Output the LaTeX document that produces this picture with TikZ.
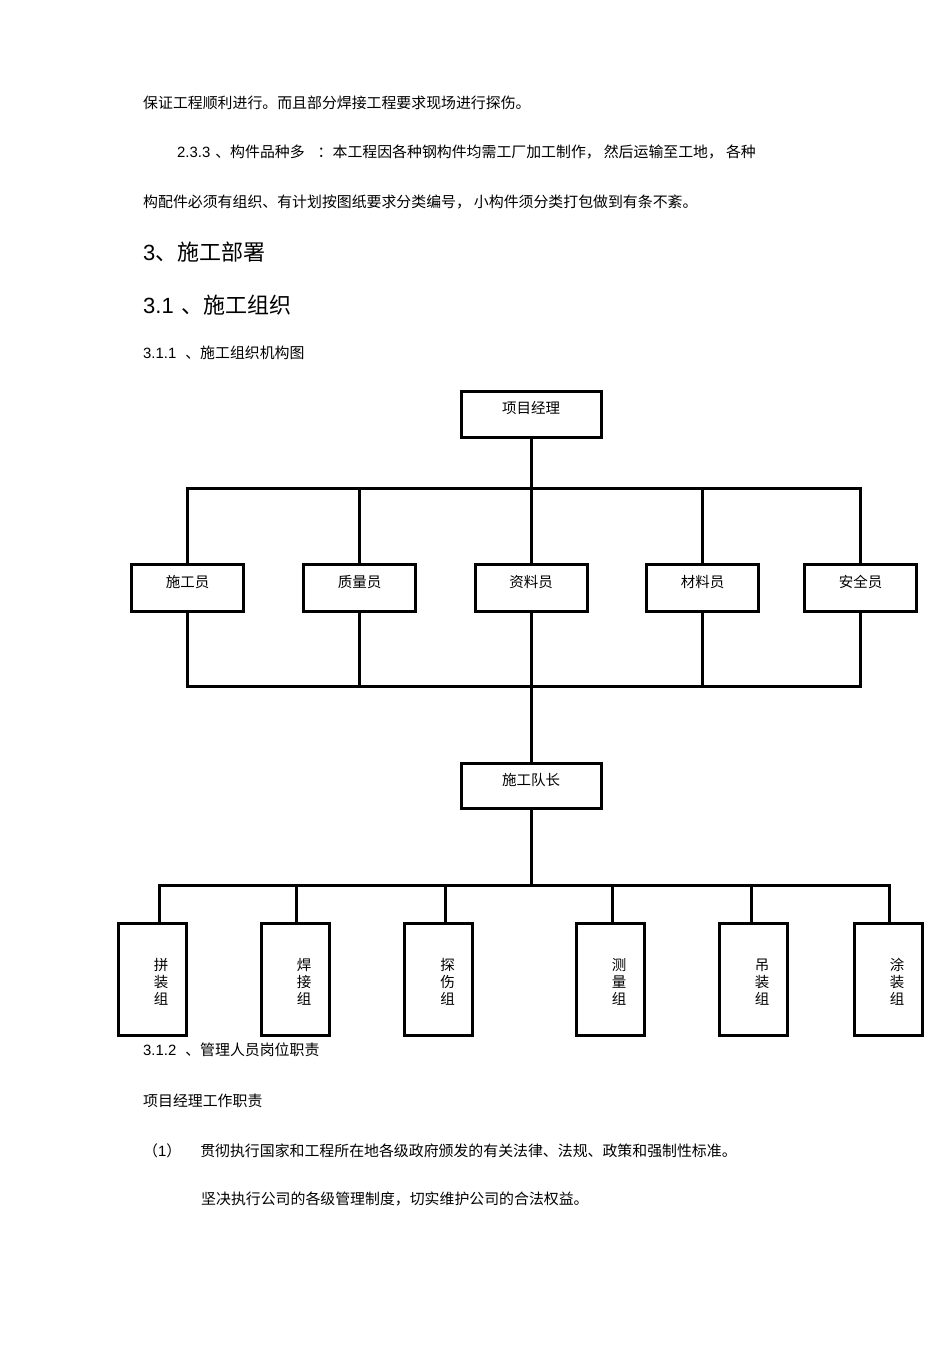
\documentclass[tikz,border=0pt]{standalone}
\usepackage{fontspec}
\setmainfont{Noto Sans CJK SC}
\newfontfamily\numfont{Liberation Sans}
\newcommand{\grplabel}[3]{\hspace*{18pt}\begin{tabular}{@{}c@{}}\rule{0pt}{20.8pt}#1\\#2\\#3\end{tabular}}
\begin{document}
\begin{tikzpicture}[x=1pt, y=-1pt,
    txt/.style={anchor=base west, inner sep=0pt, font=\fontsize{14.9}{17}\selectfont},
    head/.style={anchor=base west, inner sep=0pt, font=\fontsize{22}{26}\selectfont},
    post/.style={draw, line width=3pt, inner sep=0pt, minimum width=112pt, minimum height=47pt,
        text height=10pt, text depth=11pt, font=\fontsize{14.5}{17}\selectfont},
    grp/.style={draw, line width=3pt, inner sep=0pt, minimum width=68pt, minimum height=112pt,
        font=\fontsize{14.5}{16}\selectfont},
    link/.style={line width=3pt}]
    \useasboundingbox (0,0) rectangle (950,1345);

    % Text above the chart
    \node[txt] (p1) at (143,108.5) {保证工程顺利进行。而且部分焊接工程要求现场进行探伤。};
    \node[txt] (p2) at (177,157.5) {{\numfont 2.3.3}\hspace{5pt}、构件品种多\hspace{13pt}：本工程因各种钢构件均需工厂加工制作，\hspace{3pt}然后运输至工地，\hspace{3pt}各种};
    \node[txt] (p3) at (143,207.5) {构配件必须有组织、有计划按图纸要求分类编号，\hspace{3pt}小构件须分类打包做到有条不紊。};
    \node[head] (h1) at (143,260.5) {{\numfont 3}、施工部署};
    \node[head] (h2) at (143,313.5) {{\numfont 3.1}\hspace{8pt}、施工组织};
    \node[txt] (h3) at (143,358.5) {{\numfont 3.1.1}\hspace{9pt}、施工组织机构图};

    % Manager and staff
    \node[post, minimum width=140pt, minimum height=46pt] (jingli) at (531,414) {项目经理};
    \node[post] (shigong) at (187.5,588) {施工员};
    \node[post] (zhiliang) at (359.5,588) {质量员};
    \node[post] (ziliao) at (531,588) {资料员};
    \node[post] (cailiao) at (702.5,588) {材料员};
    \node[post] (anquan) at (860.5,588) {安全员};
    \node[post, minimum width=140pt, minimum height=45pt] (duizhang) at (531,786) {施工队长};

    % Work groups
    \node[grp] (pinzhuang) at (152,979.5) {\grplabel{拼}{装}{组}};
    \node[grp] (hanjie) at (295,979.5) {\grplabel{焊}{接}{组}};
    \node[grp] (tanshang) at (438.5,979.5) {\grplabel{探}{伤}{组}};
    \node[grp] (celiang) at (610,979.5) {\grplabel{测}{量}{组}};
    \node[grp] (diaozhuang) at (753,979.5) {\grplabel{吊}{装}{组}};
    \node[grp] (tuzhuang) at (888,979.5) {\grplabel{涂}{装}{组}};

    % Connectors
    \coordinate (busA) at (531,488);
    \coordinate (busB) at (531,686);
    \coordinate (busC) at (531,885);
    \draw[link] (jingli.south) -- (busA);
    \draw[link] (shigong.north) |- (busA) -| (anquan.north);
    \foreach \n in {zhiliang,ziliao,cailiao}
        \draw[link] (\n.north) -- (\n.north |- busA);
    \draw[link] (shigong.south) |- (busB) -| (anquan.south);
    \foreach \n in {zhiliang,ziliao,cailiao}
        \draw[link] (\n.south) -- (\n.south |- busB);
    \draw[link] (busB) -- (duizhang.north);
    \draw[link] (duizhang.south) -- (busC);
    \coordinate (d1) at (159,885);
    \coordinate (d2) at (296,885);
    \coordinate (d3) at (445,885);
    \coordinate (d4) at (612,885);
    \coordinate (d5) at (751,885);
    \coordinate (d6) at (889,885);
    \draw[link] (d1 |- pinzhuang.north) -- (d1) -- (d6) -- (d6 |- tuzhuang.north);
    \foreach \d/\n in {d2/hanjie,d3/tanshang,d4/celiang,d5/diaozhuang}
        \draw[link] (\d) -- (\d |- \n.north);

    % Text below the chart
    \node[txt] (p4) at (143,1055.5) {{\numfont 3.1.2}\hspace{9pt}、管理人员岗位职责};
    \node[txt] (p5) at (143,1106.5) {项目经理工作职责};
    \node[txt] (p6) at (143,1156.5) {（{\numfont 1}）\hspace{19pt}贯彻执行国家和工程所在地各级政府颁发的有关法律、法规、政策和强制性标准。};
    \node[txt] (p7) at (201,1204.5) {坚决执行公司的各级管理制度，切实维护公司的合法权益。};
\end{tikzpicture}
\end{document}
